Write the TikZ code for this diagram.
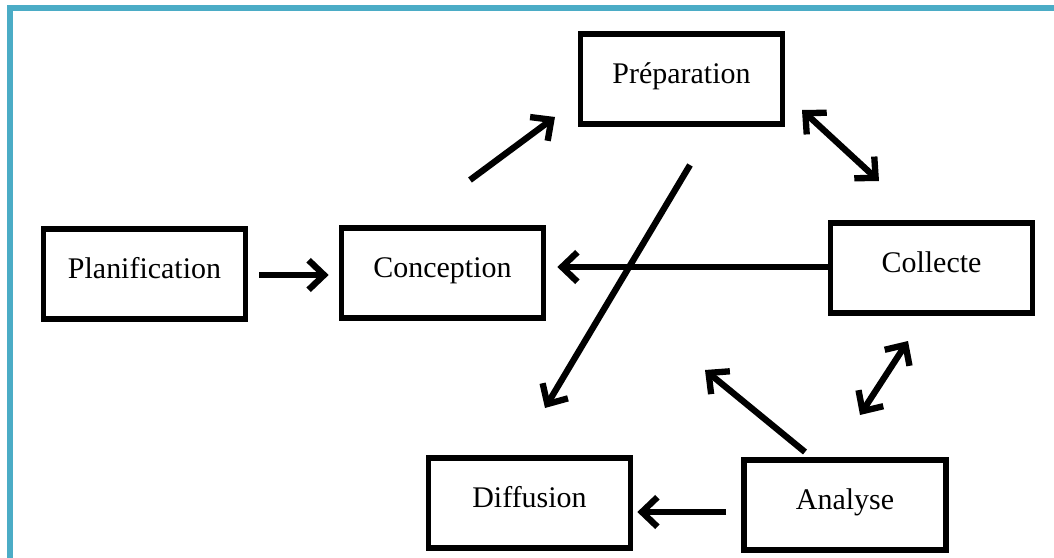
\documentclass[tikz,border=0pt]{standalone}
\usepackage{fontspec}
\setmainfont{Liberation Serif}
\usetikzlibrary{arrows.meta, calc}

\definecolor{cadrebleu}{RGB}{75,172,198}

\tikzset{
  etape/.style={draw, line width=4pt, minimum width=5.05cm, minimum height=2.25cm,
    text height=14pt, text depth=7pt, font=\fontsize{21.3}{24}\selectfont},
  fleche/.style={line width=4.5pt, -{Straight Barb[length=11pt,width=21pt]}},
  doublefleche/.style={line width=4.5pt, {Straight Barb[length=11pt,width=21pt]}-{Straight Barb[length=11pt,width=21pt]}}
}

\begin{document}
\begin{tikzpicture}[x=0.025cm, y=-0.025cm]

    \useasboundingbox (0,0) rectangle (1054,558);
    \clip (0,0) rectangle (1054,558);

    % Cadre bleu
    \draw[cadrebleu, line width=4pt] (10,580) -- (10,8) -- (1080,8);

    % Etapes
    \node[etape] (planif) at (144.5,274) {Planification};
    \node[etape] (concep) at (442.5,273) {Conception};
    \node[etape] (prepa)  at (681.5,79)  {Préparation};
    \node[etape] (collec) at (931.5,268) {Collecte};
    \node[etape] (analy)  at (845,505)   {Analyse};
    \node[etape] (diffu)  at (529.5,503) {Diffusion};

    % Extremites des fleches libres
    \coordinate (a1) at (470,180);
    \coordinate (a2) at (555,117);
    \coordinate (b1) at (690,165);
    \coordinate (b2) at (545,408);
    \coordinate (c1) at (802,110);
    \coordinate (c2) at (879,181);
    \coordinate (d1) at (908,341);
    \coordinate (d2) at (860,415);
    \coordinate (e1) at (805,452);
    \coordinate (e2) at (705,370);

    % Fleches
    \draw[fleche] ($(planif.east)+(11,1)$) -- ($(concep.west)+(-10,2)$);
    \draw[fleche] (a1) -- (a2);
    \draw[fleche] (b1) -- (b2);
    \draw[doublefleche] (c1) -- (c2);
    \draw[fleche] ($(collec.west)+(0,-1)$) -- ($(concep.east)+(11,-6)$);
    \draw[doublefleche] (d1) -- (d2);
    \draw[fleche] (e1) -- (e2);
    \draw[fleche] ($(analy.west)+(-15,7)$) -- ($(diffu.east)+(4,9)$);

\end{tikzpicture}
\end{document}
